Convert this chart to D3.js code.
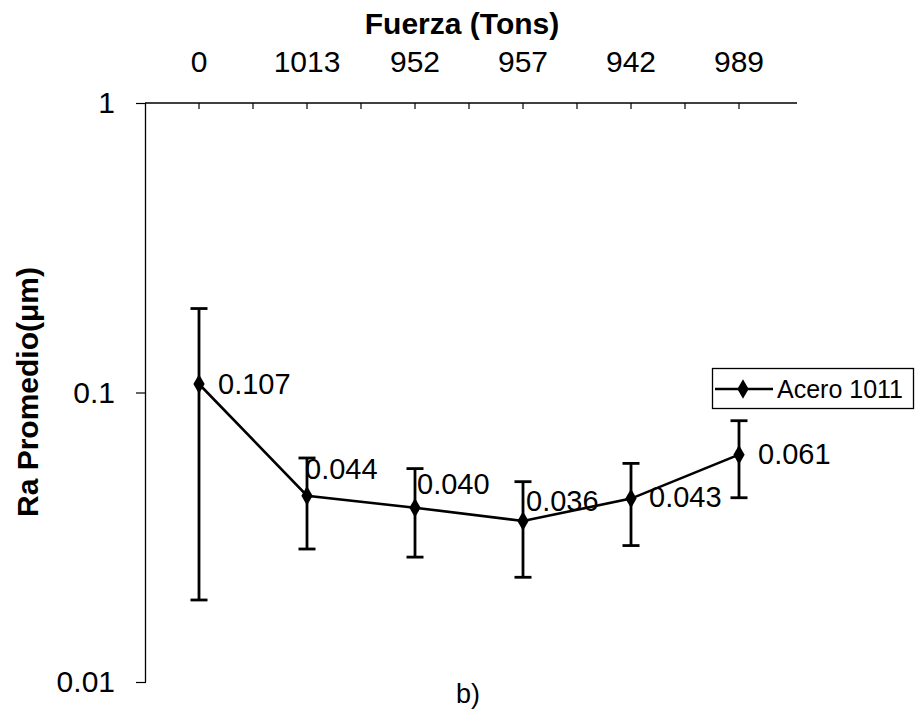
<!DOCTYPE html>
<html>
<head>
<meta charset="utf-8">
<script src="https://cdn.jsdelivr.net/npm/d3@7"></script>
<style>
  html, body { margin: 0; padding: 0; background: #fff; }
  svg text { font-family: "Liberation Sans", Arial, sans-serif; fill: #000; }
</style>
</head>
<body>
<svg id="chart" width="917" height="720"></svg>
<script>
// ---- data ----
const categories = ["0", "1013", "952", "957", "942", "989"];
const raValues   = [0.107, 0.044, 0.040, 0.036, 0.043, 0.061];
const errUpper   = [0.195, 0.0594, 0.0546, 0.0492, 0.0569, 0.0799];
const errLower   = [0.0192, 0.0288, 0.0270, 0.0230, 0.0296, 0.0433];
const valueLabels = ["0.107", "0.044", "0.040", "0.036", "0.043", "0.061"];
const yTickValues = [0.01, 0.1, 1];
const yTickLabels = ["0.01", "0.1", "1"];
const seriesName = "Acero 1011";
const xTitle = "Fuerza (Tons)";
const yTitle = "Ra Promedio(\u03bcm)";
const panelLabel = "b)";

// ---- layout (label nudges as placed in the original) ----
const labelShift = [[19, 0], [-2, -27], [2, -24], [3, -20], [18, -2], [19, -1]];

const svg = d3.select("#chart");
const x = d3.scaleBand().domain(categories).range([145, 793]);
const y = d3.scaleLog().domain([0.01, 1]).range([682, 103]);
const cx = c => x(c) + x.bandwidth() / 2;

// top category axis
const axisTopY = y(1);
svg.append("line").attr("x1", x.range()[0]).attr("x2", x.range()[1] + 4)
  .attr("y1", axisTopY).attr("y2", axisTopY).attr("stroke", "#000").attr("stroke-width", 1.3);
const tickXs = [];
categories.forEach((c, i) => { tickXs.push(cx(c)); if (i > 0) tickXs.push(x(c)); });
svg.selectAll(".xt").data(tickXs).join("line")
  .attr("x1", d => d).attr("x2", d => d)
  .attr("y1", axisTopY).attr("y2", axisTopY + 6)
  .attr("stroke", "#000").attr("stroke-width", 1.2);
svg.selectAll(".xl").data(categories).join("text")
  .attr("x", d => cx(d)).attr("y", 72)
  .attr("text-anchor", "middle").attr("font-size", 30)
  .text(d => d);
svg.append("text").attr("x", 462).attr("y", 34)
  .attr("text-anchor", "middle").attr("font-size", 30).attr("font-weight", "bold")
  .text(xTitle);

// y axis (log)
const yAxis = d3.axisLeft(y).tickValues(yTickValues)
  .tickFormat((d, i) => yTickLabels[i]).tickSize(10).tickPadding(21);
const gy = svg.append("g").attr("transform", "translate(146,0)").call(yAxis);
gy.select(".domain").attr("stroke-width", 1.3).attr("d", `M-0.5,${y(0.01)}V${y(1)}`);
gy.selectAll(".tick line").attr("stroke-width", 1.2);
gy.selectAll(".tick text").attr("font-size", 30).attr("font-family", "'Liberation Sans', Arial, sans-serif");

svg.append("text")
  .attr("transform", `translate(38,392) rotate(-90)`)
  .attr("text-anchor", "middle").attr("font-size", 30).attr("font-weight", "bold")
  .text(yTitle);

// error bars
const eb = svg.append("g").attr("stroke", "#000").attr("stroke-width", 2.8);
categories.forEach((c, i) => {
  const px = cx(c);
  eb.append("line").attr("x1", px).attr("x2", px).attr("y1", y(errUpper[i])).attr("y2", y(errLower[i]));
  eb.append("line").attr("x1", px - 8.5).attr("x2", px + 8.5).attr("y1", y(errUpper[i])).attr("y2", y(errUpper[i]));
  eb.append("line").attr("x1", px - 8.5).attr("x2", px + 8.5).attr("y1", y(errLower[i])).attr("y2", y(errLower[i]));
});

// line
const pts = categories.map((c, i) => [cx(c), y(raValues[i])]);
svg.append("path").attr("d", d3.line()(pts))
  .attr("fill", "none").attr("stroke", "#000").attr("stroke-width", 2.6);

// markers
const diamond = d3.symbol().type(d3.symbolDiamond).size(110);
svg.selectAll(".mk").data(pts).join("path")
  .attr("transform", d => `translate(${d[0]},${d[1]})`)
  .attr("d", diamond).attr("fill", "#000");

// value labels
svg.selectAll(".vl").data(valueLabels).join("text")
  .attr("x", (d, i) => pts[i][0] + labelShift[i][0])
  .attr("y", (d, i) => pts[i][1] + labelShift[i][1])
  .attr("dy", "0.36em").attr("font-size", 29)
  .text(d => d);

// legend
const lg = svg.append("g");
lg.append("rect").attr("x", 712.5).attr("y", 368.5).attr("width", 201).attr("height", 40)
  .attr("fill", "#fff").attr("stroke", "#000").attr("stroke-width", 1.3);
lg.append("line").attr("x1", 715).attr("x2", 773).attr("y1", 389).attr("y2", 389)
  .attr("stroke", "#000").attr("stroke-width", 2.6);
lg.append("path").attr("transform", "translate(743,389)").attr("d", diamond).attr("fill", "#000");
lg.append("text").attr("x", 777).attr("y", 389).attr("dy", "0.36em")
  .attr("font-size", 25).text(seriesName);

// panel label
svg.append("text").attr("x", 468).attr("y", 703).attr("text-anchor", "middle")
  .attr("font-size", 27).text(panelLabel);
</script>
</body>
</html>
